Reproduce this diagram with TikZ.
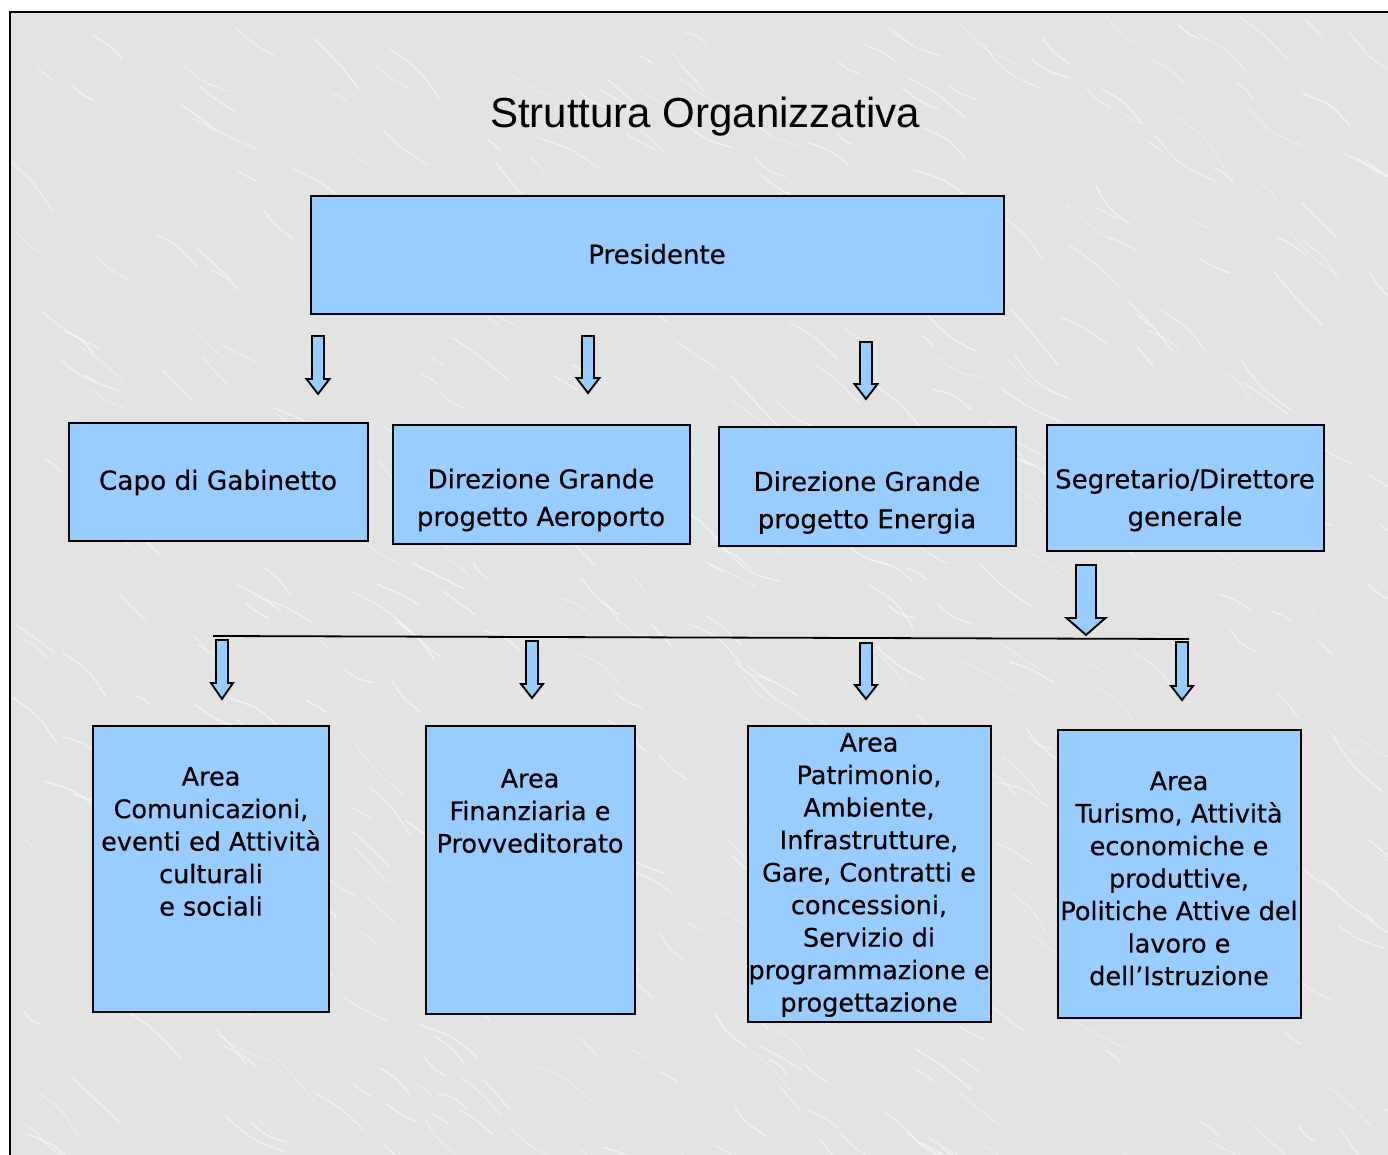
\documentclass[tikz,border=0pt]{standalone}
\usepackage{fontspec}
\setmainfont{DejaVu Sans}[FakeBold=0.4]
\newfontfamily\titlefont{Liberation Sans}
\definecolor{boxblue}{HTML}{99CCFF}
\definecolor{marble}{HTML}{E3E3E3}
\begin{document}
\begin{tikzpicture}[x=1pt,y=-1pt,
  orgbox/.style={draw=black,line width=1.4pt,fill=boxblue,inner sep=0pt},
  orgtext/.style={align=center,font=\fontsize{25.5}{32.5}\selectfont,inner sep=0pt},
  toptext/.style={align=center,font=\fontsize{26}{37.5}\selectfont,inner sep=0pt},
  blkarrow/.style={draw=black,line width=1.9pt,fill=boxblue,line join=miter},
]
\useasboundingbox (0,0) rectangle (1388,1155);
\fill[white] (0,0) rectangle (1388,1155);
\fill[marble] (10,12) rectangle (1388,1155);
% marble veins
\begin{scope}
\clip (10,12) rectangle (1388,1155);
\pgfmathsetseed{7}
\foreach \i in {1,...,500}{
  \pgfmathsetmacro{\xa}{10+1378*rnd}
  \pgfmathsetmacro{\ya}{12+1143*rnd}
  \pgfmathsetmacro{\len}{15+60*rnd}
  \pgfmathsetmacro{\ang}{25+25*rnd}
  \pgfmathsetmacro{\bend}{-15+30*rnd}
  \pgfmathsetmacro{\wd}{0.6+1.2*rnd}
  \draw[white,opacity=0.5,line width=\wd pt,line cap=round] (\xa,\ya) .. controls +(\ang+\bend:\len/2) .. +(\ang:\len);
}
\end{scope}
\draw[black,line width=2pt] (1388,12) -- (10,12) -- (10,1155);

% title
\node[font=\titlefont\fontsize{42}{48}\selectfont,inner sep=0pt] (title) at (705,117) {Struttura Organizzativa};

% top level
\node[orgbox,minimum width=693pt,minimum height=118pt] (pres) at (657.5,255) {};
\node[orgtext,font=\fontsize{26}{32.5}\selectfont] (prest) at (657,254) {Presidente};

% second row
\node[orgbox,minimum width=299pt,minimum height=118pt] (capo) at (218.5,482) {};
\node[orgtext,font=\fontsize{26.3}{32.5}\selectfont] (capot) at (218,482.5) {Capo di Gabinetto};
\node[orgbox,minimum width=297pt,minimum height=119pt] (aero) at (541.5,484.5) {};
\node[toptext] (aerot) at (541,500) {Direzione Grande\\progetto Aeroporto};
\node[orgbox,minimum width=297pt,minimum height=119pt] (ener) at (867.5,486.5) {};
\node[toptext] (enert) at (867,502.5) {Direzione Grande\\progetto Energia};
\node[orgbox,minimum width=277pt,minimum height=126pt] (segr) at (1185.5,488) {};
\node[toptext] (segrt) at (1185,500) {Segretario/Direttore\\generale};

% third row
\node[orgbox,minimum width=236pt,minimum height=286pt] (comu) at (211,869) {};
\node[orgtext] (comut) at (211,841.5) {Area\\Comunicazioni,\\eventi ed Attività\\culturali\\e sociali};
\node[orgbox,minimum width=209pt,minimum height=288pt] (fina) at (530.5,870) {};
\node[orgtext] (finat) at (530,811) {Area\\Finanziaria e\\Provveditorato};
\node[orgbox,minimum width=243pt,minimum height=296pt] (patr) at (869.5,874) {};
\node[orgtext] (patrt) at (869,875) {Area\\Patrimonio,\\Ambiente,\\Infrastrutture,\\Gare, Contratti e\\concessioni,\\Servizio di\\programmazione e\\progettazione};
\node[orgbox,minimum width=243pt,minimum height=288pt] (turi) at (1179.5,874) {};
\node[orgtext] (turit) at (1179,878.5) {Area\\Turismo, Attività\\economiche e\\produttive,\\Politiche Attive del\\lavoro e\\dell’Istruzione};

% distribution line
\coordinate (busL) at (213,636);
\coordinate (busR) at (1189,639);
\draw[black,line width=1.8pt] (busL) -- (busR);

% block arrows: x, top, head start, tip, shaft half, head half
\newcommand{\myblockarrow}[6]{%
  \draw[blkarrow] (#1-#5,#2) -- (#1+#5,#2) -- (#1+#5,#3) -- (#1+#6,#3) -- (#1,#4) -- (#1-#6,#3) -- (#1-#5,#3) -- cycle;}
\myblockarrow{318}{336}{379}{394}{6}{11.5}
\myblockarrow{588}{336}{378}{393}{6}{11.5}
\myblockarrow{866}{342}{384}{399}{6}{11.5}
\myblockarrow{1086}{565}{618}{635}{10}{19.5}
\myblockarrow{222}{640}{683}{699}{6}{11}
\myblockarrow{532}{641}{684}{698}{6}{11}
\myblockarrow{866}{643}{685}{699}{6}{11}
\myblockarrow{1182}{642}{686}{700}{6}{11}
\end{tikzpicture}
\end{document}
